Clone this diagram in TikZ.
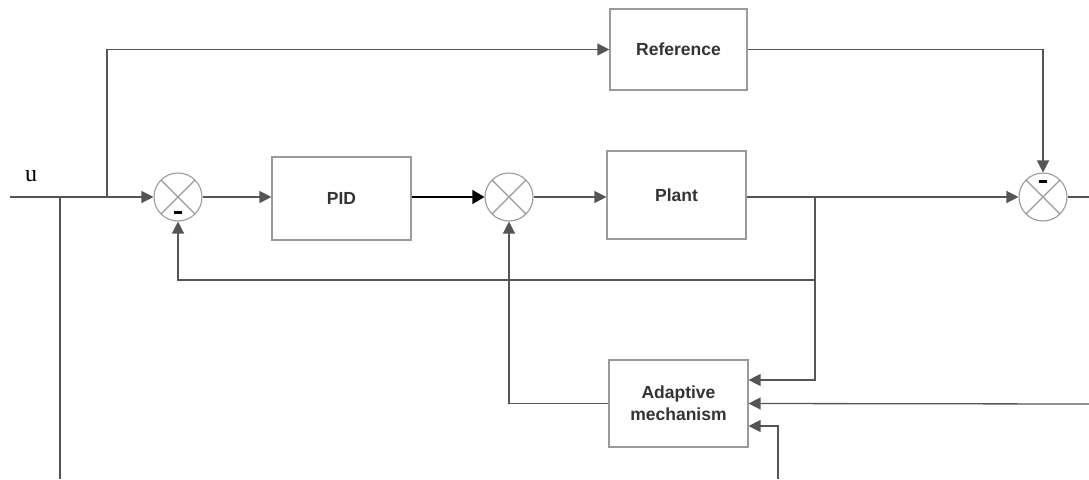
\documentclass[tikz,border=0pt]{standalone}
\usepackage{fontspec}
\setmainfont{Liberation Serif}
\newfontfamily\boxfont{Liberation Sans}
\usetikzlibrary{arrows.meta}
\definecolor{linec}{HTML}{555555}
\definecolor{boxc}{HTML}{9A9A9A}
\definecolor{txtc}{HTML}{333333}
\begin{document}
\begin{tikzpicture}[x=1pt,y=-1pt,
 blk/.style={draw=boxc,line width=1.2pt,text=txtc,font=\boxfont\bfseries\fontsize{17.5}{22}\selectfont,align=center,inner sep=0pt},
 sumnode/.style={circle,draw=boxc,line width=1.1pt,minimum size=48pt,inner sep=0pt,
   path picture={\draw[boxc,line width=1.1pt] (path picture bounding box.north west)--(path picture bounding box.south east) (path picture bounding box.north east)--(path picture bounding box.south west);}},
 conn/.style={draw=linec,line width=1.3pt},
 arr/.style={conn,-{Triangle[length=12pt,width=12pt]}},
 barr/.style={draw=black,line width=1.3pt,-{Triangle[length=12pt,width=14pt]}},
 minus/.style={fill=black,inner sep=0pt,minimum width=8pt,minimum height=3pt}]
\useasboundingbox (0,0) rectangle (1089,479);

\node[blk,minimum width=137pt,minimum height=81pt] (ref) at (678.5,49.5) {Reference};
\node[blk,minimum width=139pt,minimum height=83pt] (pid) at (341.5,198.5) {PID};
\node[blk,minimum width=139pt,minimum height=88pt] (plant) at (676.5,195) {Plant};
\node[blk,minimum width=139pt,minimum height=87pt] (adapt) at (678.5,403.5) {Adaptive\\mechanism};

\node[sumnode] (s1) at (178,197) {};
\node[sumnode] (s2) at (509,197) {};
\node[sumnode] (s3) at (1043,197) {};
\node[minus] (m1) at (178,212) {};
\node[minus] (m3) at (1043,181) {};

\node[font=\fontsize{24}{24}\selectfont,inner sep=0pt] (ulabel) at (31,176) {u};

\coordinate (uin) at (10,197);
\coordinate (b1) at (60,197);
\coordinate (b1end) at (60,479);
\coordinate (b2) at (107,197);
\coordinate (fb) at (815,197);
\coordinate (fb2) at (815,280);
\coordinate (outR) at (1089,197);
\coordinate (inR) at (1089,404);
\coordinate (inB) at (778,479);

\draw[arr] (uin) -- (s1.west);
\draw[conn] (b1) -- (b1end);
\draw[arr] (b2) |- (ref.west);
\draw[arr] (ref.east) -| (s3.north);
\draw[arr] (s1.east) -- (pid.west |- s1.east);
\draw[barr] (pid.east |- s2.west) -- (s2.west);
\draw[arr] (s2.east) -- (plant.west |- s2.east);
\draw[arr] (plant.east |- s3.west) -- (s3.west);
\draw[arr] (fb) -- (fb2) -| (s1.south);
\draw[arr] (fb2) |- ([yshift=23.5pt]adapt.east);
\draw[conn] (s3.east) -- (outR);
\draw[arr] (inR) -- (adapt.east);
\draw[arr] (inB) |- ([yshift=-22.5pt]adapt.east);
\draw[arr] (adapt.west) -| (s2.south);
\end{tikzpicture}
\end{document}
